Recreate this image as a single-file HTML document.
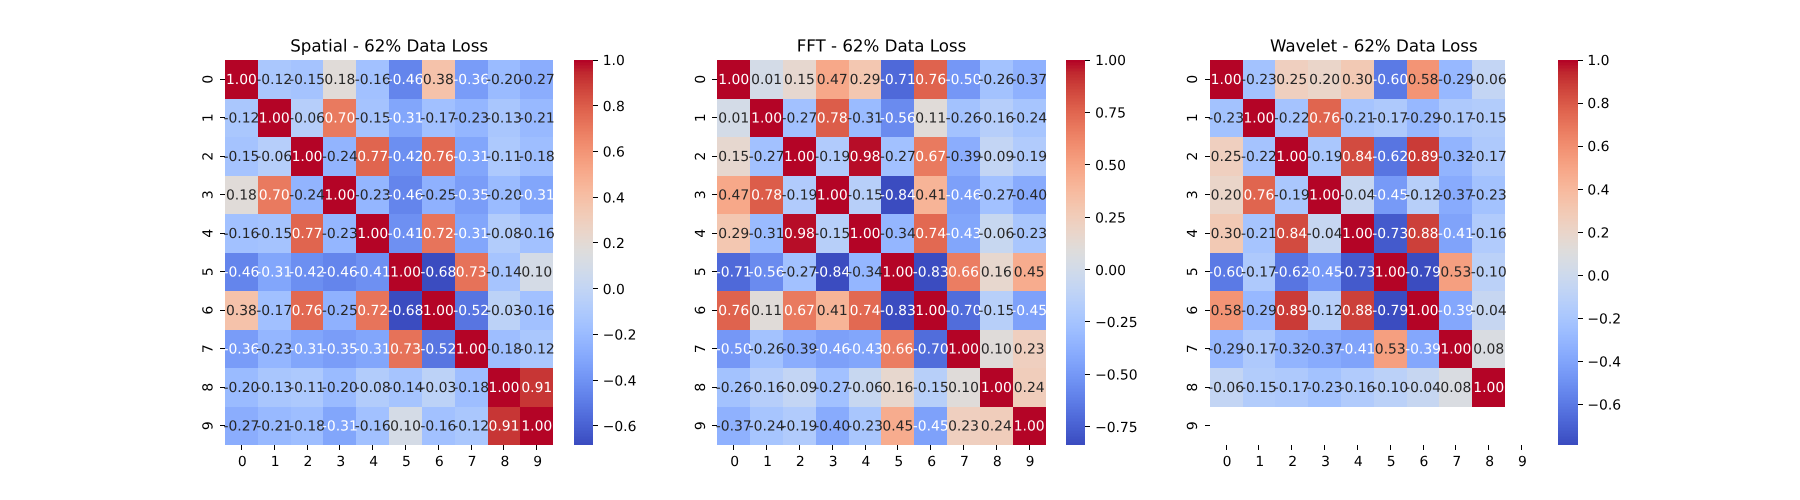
<!DOCTYPE html>
<html lang="en">
<head>
<meta charset="utf-8">
<title>Correlation heatmaps - 62% Data Loss</title>
<style>
html,body{margin:0;padding:0;background:#fff;width:1800px;height:500px;overflow:hidden}
svg{display:block}
text{font-family:"DejaVu Sans","Liberation Sans",sans-serif;text-rendering:geometricPrecision}
</style>
</head>
<body>
<svg id="chart" xmlns="http://www.w3.org/2000/svg" width="1800" height="500" viewBox="0 0 1800 500"></svg>
<script>
const tickLabels = ['0','1','2','3','4','5','6','7','8','9'];

const spatialTitle = 'Spatial - 62% Data Loss';
const fftTitle = 'FFT - 62% Data Loss';
const waveletTitle = 'Wavelet - 62% Data Loss';

const spatialValues = [
  [1.00,-0.12,-0.15,0.18,-0.16,-0.46,0.38,-0.36,-0.20,-0.27],
  [-0.12,1.00,-0.06,0.70,-0.15,-0.31,-0.17,-0.23,-0.13,-0.21],
  [-0.15,-0.06,1.00,-0.24,0.77,-0.42,0.76,-0.31,-0.11,-0.18],
  [0.18,0.70,-0.24,1.00,-0.23,-0.46,-0.25,-0.35,-0.20,-0.31],
  [-0.16,-0.15,0.77,-0.23,1.00,-0.41,0.72,-0.31,-0.08,-0.16],
  [-0.46,-0.31,-0.42,-0.46,-0.41,1.00,-0.684,0.73,-0.14,0.10],
  [0.38,-0.17,0.76,-0.25,0.72,-0.684,1.00,-0.52,-0.03,-0.16],
  [-0.36,-0.23,-0.31,-0.35,-0.31,0.73,-0.52,1.00,-0.18,-0.12],
  [-0.20,-0.13,-0.11,-0.20,-0.08,-0.14,-0.03,-0.18,1.00,0.91],
  [-0.27,-0.21,-0.18,-0.31,-0.16,0.10,-0.16,-0.12,0.91,1.00]
];
const fftValues = [
  [1.00,0.01,0.15,0.47,0.29,-0.71,0.76,-0.50,-0.26,-0.37],
  [0.01,1.00,-0.27,0.78,-0.31,-0.56,0.11,-0.26,-0.16,-0.24],
  [0.15,-0.27,1.00,-0.19,0.98,-0.27,0.67,-0.39,-0.09,-0.19],
  [0.47,0.78,-0.19,1.00,-0.15,-0.837,0.41,-0.46,-0.27,-0.40],
  [0.29,-0.31,0.98,-0.15,1.00,-0.34,0.74,-0.43,-0.06,-0.23],
  [-0.71,-0.56,-0.27,-0.837,-0.34,1.00,-0.83,0.66,0.16,0.45],
  [0.76,0.11,0.67,0.41,0.74,-0.83,1.00,-0.70,-0.15,-0.45],
  [-0.50,-0.26,-0.39,-0.46,-0.43,0.66,-0.70,1.00,0.10,0.23],
  [-0.26,-0.16,-0.09,-0.27,-0.06,0.16,-0.15,0.10,1.00,0.24],
  [-0.37,-0.24,-0.19,-0.40,-0.23,0.45,-0.45,0.23,0.24,1.00]
];
const waveletValues = [
  [1.00,-0.23,0.25,0.20,0.30,-0.60,0.58,-0.29,-0.06,null],
  [-0.23,1.00,-0.22,0.76,-0.21,-0.17,-0.29,-0.17,-0.15,null],
  [0.25,-0.22,1.00,-0.19,0.84,-0.62,0.89,-0.32,-0.17,null],
  [0.20,0.76,-0.19,1.00,-0.04,-0.45,-0.12,-0.37,-0.23,null],
  [0.30,-0.21,0.84,-0.04,1.00,-0.73,0.88,-0.41,-0.16,null],
  [-0.60,-0.17,-0.62,-0.45,-0.73,1.00,-0.79,0.53,-0.10,null],
  [0.58,-0.29,0.89,-0.12,0.88,-0.79,1.00,-0.39,-0.04,null],
  [-0.29,-0.17,-0.32,-0.37,-0.41,0.53,-0.39,1.00,0.08,null],
  [-0.06,-0.15,-0.17,-0.23,-0.16,-0.10,-0.04,0.08,1.00,null],
  [null,null,null,null,null,null,null,null,null,null]
];

const spatialBarTicks = [-0.6,-0.4,-0.2,0,0.2,0.4,0.6,0.8,1.0];
const fftBarTicks = [-0.75,-0.5,-0.25,0,0.25,0.5,0.75,1.0];
const waveletBarTicks = [-0.6,-0.4,-0.2,0,0.2,0.4,0.6,0.8,1.0];

/* matplotlib "coolwarm" colormap stops, evenly spaced */
const coolwarmRed = [0.2298057,0.26623388,0.30386891,0.342804478,0.38301334,0.424369608,0.46666708,0.509635204,0.552953156,0.596262162,0.639176211,0.681291281,0.722193294,0.761464949,0.798691636,0.833466556,0.865395197,0.897787179,0.924127593,0.944468518,0.958852946,0.96732803,0.969954137,0.966811177,0.958003065,0.943660866,0.923944917,0.89904617,0.869186849,0.834620542,0.795631745,0.752534934,0.705673158];
const coolwarmGreen = [0.298717966,0.353094838,0.406535296,0.458757618,0.50941904,0.558148092,0.604562568,0.648280772,0.688929332,0.726149107,0.759599947,0.788964712,0.813952739,0.834302879,0.849786142,0.860207984,0.86541021,0.848937047,0.827384882,0.800927443,0.769767752,0.734132809,0.694266682,0.650421156,0.602842431,0.551750968,0.49730856,0.439559467,0.378313092,0.312874446,0.24128379,0.157246067,0.01555616];
const coolwarmBlue = [0.753683153,0.801466763,0.84495867,0.883725899,0.917387822,0.945619588,0.968154911,0.98478814,0.995375608,0.999836203,0.998151185,0.990363227,0.976574709,0.956945269,0.931688648,0.901068838,0.865395561,0.820880546,0.774508472,0.726736146,0.678007945,0.628751763,0.579375448,0.530263762,0.481775914,0.434243684,0.387970225,0.343229596,0.300267182,0.259301199,0.220525627,0.184115123,0.150232812];

const svgNS = 'http://www.w3.org/2000/svg';
const chart = document.getElementById('chart');

const plotTop = 60;
const plotBottom = 445;
const panelStep = 492.353;
const firstPanelLeft = 225;
const plotWidth = 328.235;
const barOffset = 348.75;
const barWidth = 19.25;
const tickLength = 5;
const textSize = 13.89;
const titleSize = 16.67;

function lerpStops(stops, t) {
  const p = t * (stops.length - 1);
  const i = Math.min(Math.floor(p), stops.length - 2);
  return stops[i] + (stops[i + 1] - stops[i]) * (p - i);
}
function levelColor(level) {
  const t = level / 255;
  return [lerpStops(coolwarmRed, t), lerpStops(coolwarmGreen, t), lerpStops(coolwarmBlue, t)];
}
function toCss(rgb) {
  return 'rgb(' + rgb.map(function (c) { return Math.round(c * 255); }).join(',') + ')';
}
function luminance(rgb) {
  const lin = rgb.map(function (c) {
    return c <= 0.03928 ? c / 12.92 : Math.pow((c + 0.055) / 1.055, 2.4);
  });
  return 0.2126 * lin[0] + 0.7152 * lin[1] + 0.0722 * lin[2];
}
function makeRect(parent, x, y, w, h, fill) {
  const r = document.createElementNS(svgNS, 'rect');
  r.setAttribute('x', x);
  r.setAttribute('y', y);
  r.setAttribute('width', w);
  r.setAttribute('height', h);
  r.setAttribute('fill', fill);
  r.setAttribute('shape-rendering', 'crispEdges');
  parent.appendChild(r);
  return r;
}
function makeText(parent, x, y, str, size, fill, anchor) {
  const t = document.createElementNS(svgNS, 'text');
  t.setAttribute('x', x);
  t.setAttribute('y', y);
  t.setAttribute('font-size', size);
  t.setAttribute('fill', fill);
  t.setAttribute('text-anchor', anchor);
  t.textContent = str;
  parent.appendChild(t);
  return t;
}
function makeGroup(parent) {
  const g = document.createElementNS(svgNS, 'g');
  parent.appendChild(g);
  return g;
}

function drawPanel(prefix, title, values, barTicks, panelIndex) {
  const left = firstPanelLeft + panelIndex * panelStep;
  const n = tickLabels.length;
  const xScale = function (j) { return left + j * plotWidth / n; };
  const yScale = function (i) { return plotTop + i * (plotBottom - plotTop) / n; };

  const flat = values.flat().filter(function (v) { return v !== null; });
  const vmin = Math.min.apply(null, flat);
  const vmax = Math.max.apply(null, flat);
  const levelOf = function (v) {
    const idx = Math.floor((v - vmin) / (vmax - vmin) * 256);
    return Math.max(0, Math.min(255, idx));
  };
  const barY = function (v) {
    return plotBottom - (v - vmin) / (vmax - vmin) * (plotBottom - plotTop);
  };

  const panel = makeGroup(chart);
  
  

  const titleEl = makeText(panel, left + plotWidth / 2, plotTop - 8.33, title, titleSize, '#000', 'middle');
  
  

  const cells = makeGroup(panel);
  
  
  const annots = makeGroup(panel);
  
  

  values.forEach(function (row, i) {
    row.forEach(function (v, j) {
      if (v === null) return;
      const rgb = levelColor(levelOf(v));
      const x0 = Math.round(xScale(j));
      const x1 = Math.round(xScale(j + 1));
      const y0 = Math.round(yScale(i));
      const y1 = Math.round(yScale(i + 1));
      const cell = makeRect(cells, x0, y0, x1 - x0, y1 - y0, toCss(rgb));
      
      
      const textColor = luminance(rgb) > 0.408 ? '#262626' : '#ffffff';
      const cx = (xScale(j) + xScale(j + 1)) / 2;
      const cy = (yScale(i) + yScale(i + 1)) / 2;
      const label = makeText(annots, cx, cy + 4.75, v.toFixed(2), textSize, textColor, 'middle');
      
      
    });
  });

  const xAxis = makeGroup(panel);
  
  
  const yAxis = makeGroup(panel);
  
  

  tickLabels.forEach(function (lab, k) {
    const cx = (xScale(k) + xScale(k + 1)) / 2;
    const xt = makeRect(xAxis, Math.floor(cx), plotBottom, 1, tickLength, '#000');
    
    
    const xl = makeText(xAxis, cx + 0.9, plotBottom + 21, lab, textSize, '#000', 'middle');
    
    

    const cy = (yScale(k) + yScale(k + 1)) / 2;
    const yt = makeRect(yAxis, Math.round(left) - tickLength, Math.floor(cy), tickLength, 1, '#000');
    
    
    const yl = makeText(yAxis, 0, 0, lab, textSize, '#000', 'middle');
    yl.setAttribute('transform', 'translate(' + (left - 12.5) + ',' + cy + ') rotate(-90)');
    
    
  });

  const bar = makeGroup(panel);
  
  
  const bx0 = Math.round(left + barOffset);
  const bx1 = Math.round(left + barOffset + barWidth);
  for (let lv = 0; lv < 256; lv++) {
    const span = (plotBottom - plotTop) / 256;
    const yTop = Math.round(plotBottom - (lv + 1) * span);
    const yBot = Math.round(plotBottom - lv * span);
    if (yBot > yTop) {
      const seg = makeRect(bar, bx0, yTop, bx1 - bx0, yBot - yTop, toCss(levelColor(lv)));
      
      
    }
  }
  const decimals = barTicks.some(function (v) { return Math.abs(v * 10 - Math.round(v * 10)) > 1e-6; }) ? 2 : 1;
  barTicks.forEach(function (v) {
    const y = barY(v);
    if (y < plotTop - 0.6 || y > plotBottom + 0.6) return;
    const tk = makeRect(bar, bx1, Math.min(Math.floor(y), plotBottom - 1), tickLength, 1, '#000');
    
    
    const str = (v < 0 ? '\u2212' : '') + Math.abs(v).toFixed(decimals);
    const tl = makeText(bar, left + barOffset + barWidth + 9.72, y + 5.2, str, textSize, '#000', 'start');
    
    
  });
}

drawPanel('spatial', spatialTitle, spatialValues, spatialBarTicks, 0);
drawPanel('fft', fftTitle, fftValues, fftBarTicks, 1);
drawPanel('wavelet', waveletTitle, waveletValues, waveletBarTicks, 2);
</script>
</body>
</html>
